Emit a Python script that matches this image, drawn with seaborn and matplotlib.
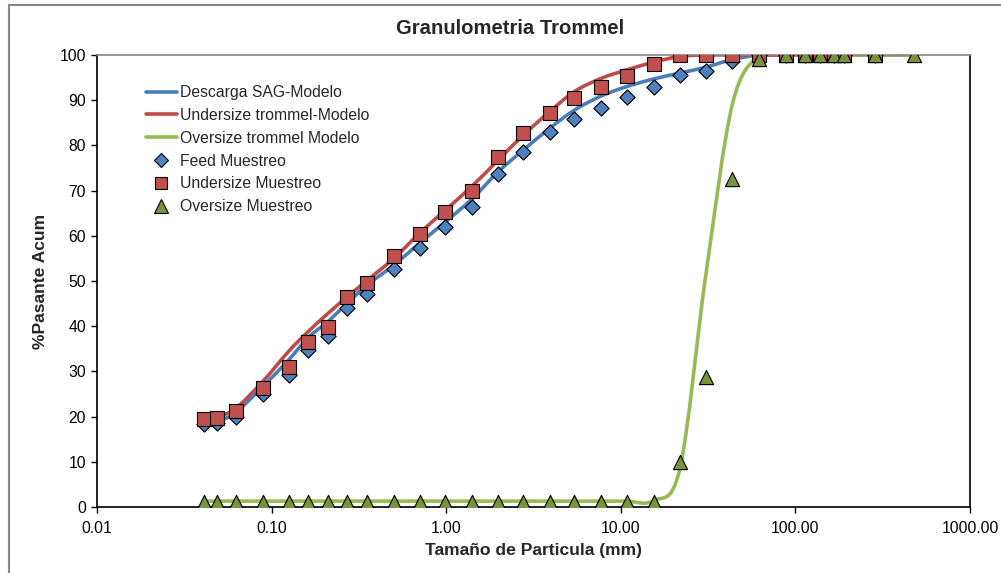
import numpy as np
import pandas as pd
import matplotlib
matplotlib.use("Agg")
import matplotlib.pyplot as plt
import seaborn as sns
from matplotlib.path import Path
from matplotlib.patches import PathPatch, Rectangle
from matplotlib.lines import Line2D

# Sieve sizes (mm)
sizes_mm = [0.0409, 0.0488, 0.0622, 0.0887, 0.125, 0.162, 0.210, 0.271, 0.352,
            0.501, 0.705, 0.99, 1.40, 1.99, 2.77, 3.92, 5.42, 7.68, 10.8, 15.4,
            21.8, 30.6, 43.5, 61.9, 88.0, 113.0, 139.0, 166.0, 191.0, 286.0, 478.0]

# Sampled cumulative passing (%)
feed_pct = [18.3, 18.5, 20.0, 25.0, 29.2, 34.7, 37.9, 44.1, 47.1, 52.7, 57.4,
            61.9, 66.4, 73.6, 78.6, 82.9, 85.9, 88.2, 90.6, 93.0, 95.5, 96.5,
            98.6, 100, 100, 100, 100, 100, 100, 100]
under_pct = [19.4, 19.6, 21.2, 26.3, 30.9, 36.6, 39.9, 46.4, 49.6, 55.6, 60.4,
             65.2, 70.0, 77.4, 82.8, 87.2, 90.4, 92.9, 95.4, 97.9, 100, 100,
             100, 100, 100, 100, 100, 100, 100, 100]
over_pct = [1.0, 1.0, 1.0, 1.0, 1.0, 1.0, 1.0, 1.0, 1.0, 1.0, 1.0, 1.0, 1.0,
            1.0, 1.0, 1.0, 1.0, 1.0, 1.0, 1.1, 9.9, 28.8, 72.5, 99.2, 100, 100,
            100, 100, 100, 100, 100]

# Model cumulative passing (%)
feed_model = [18.3, 18.9, 20.9, 26.6, 32.5, 37.5, 41.0, 45.1, 49.1, 53.5, 58.4,
              63.1, 68.1, 74.2, 79.0, 83.8, 87.8, 90.9, 93.0, 94.7, 96.0, 97.3,
              99.0, 100, 100, 100, 100, 100, 100, 100, 100]
under_model = [19.3, 19.9, 21.8, 27.7, 34.4, 38.8, 42.8, 46.5, 50.1, 55.0, 60.6,
               65.7, 70.9, 76.8, 82.3, 87.5, 91.9, 94.8, 96.7, 98.4, 99.7, 100,
               100, 100, 100, 100, 100, 100, 100, 100, 100]
over_model = [1.3, 1.3, 1.3, 1.3, 1.3, 1.3, 1.3, 1.3, 1.3, 1.3, 1.3, 1.3, 1.3,
              1.3, 1.3, 1.3, 1.3, 1.3, 1.3, 1.4, 8.5, 51.0, 89.0, 99.8, 100, 100,
              100, 100, 100, 100, 100]

x_ticks = [0.01, 0.1, 1, 10, 100, 1000]
x_tick_labels = ["0.01", "0.10", "1.00", "10.00", "100.00", "1000.00"]
y_ticks = list(range(0, 101, 10))

series_names = ["Descarga SAG-Modelo", "Undersize trommel-Modelo",
                "Oversize trommel Modelo", "Feed Muestreo",
                "Undersize Muestreo", "Oversize Muestreo"]

sns.set_theme(style="white")
plt.rcParams["font.family"] = ["Liberation Sans", "DejaVu Sans"]

W, H = 1001, 573
fig = plt.figure(figsize=(W / 100, H / 100), dpi=100)
ax = fig.add_axes([97 / W, 1 - 507 / H, (970 - 97) / W, (507 - 55) / H])

line_cols = ["#4A7EBB", "#BE4B48", "#98B954"]
mark_face = ["#4F81BD", "#C0504D", "#77933C"]


def smooth_path(xs, ys):
    """Cubic Bezier curve through the points (log-x space), Catmull-Rom style."""
    pts = np.column_stack([np.log10(xs), np.asarray(ys, float)])
    n = len(pts)
    verts = [pts[0]]
    codes = [Path.MOVETO]
    for i in range(n - 1):
        p0 = pts[i - 1] if i > 0 else pts[i]
        p1, p2 = pts[i], pts[i + 1]
        p3 = pts[i + 2] if i + 2 < n else pts[i + 1]
        verts += [p1 + (p2 - p0) / 6, p2 - (p3 - p1) / 6, p2]
        codes += [Path.CURVE4] * 3
    verts = np.array(verts)
    verts[:, 0] = 10 ** verts[:, 0]
    return Path(verts, codes)


for yv, col in zip([feed_model, under_model, over_model], line_cols):
    ax.add_patch(PathPatch(smooth_path(sizes_mm, yv), fill=False, edgecolor=col,
                           lw=2.6, capstyle="round", joinstyle="round", zorder=2))

feed_df = pd.DataFrame({"size": sizes_mm[:len(feed_pct)], "pct": feed_pct})
under_df = pd.DataFrame({"size": sizes_mm[:len(under_pct)], "pct": under_pct})
over_df = pd.DataFrame({"size": sizes_mm, "pct": over_pct})

sns.scatterplot(data=feed_df, x="size", y="pct", marker="D", s=60,
                color=mark_face[0], edgecolor="black", linewidth=0.8, ax=ax, zorder=3)
sns.scatterplot(data=under_df, x="size", y="pct", marker="s", s=92,
                color=mark_face[1], edgecolor="black", linewidth=0.8, ax=ax, zorder=4)
sns.scatterplot(data=over_df, x="size", y="pct", marker="^", s=105,
                color=mark_face[2], edgecolor="black", linewidth=0.8, ax=ax, zorder=5)

ax.set_xscale("log")
ax.set_xlim(0.01, 1000)
ax.set_ylim(0, 100)
ax.set_xticks(x_ticks)
ax.set_xticklabels(x_tick_labels)
ax.set_yticks(y_ticks)
ax.minorticks_off()
ax.tick_params(axis="both", direction="out", length=4, width=1, color="black",
               labelsize=11.3, pad=4, labelcolor="black")
ax.tick_params(axis="x", bottom=True, pad=6)
ax.tick_params(axis="y", left=True)

for side in ["left", "bottom", "right"]:
    ax.spines[side].set_color("black")
    ax.spines[side].set_linewidth(1.2)
ax.spines["top"].set_color("#868686")
ax.spines["top"].set_linewidth(1.2)
ax.set_facecolor("white")

ax.set_xlabel("Tamaño de Particula (mm)", fontsize=12.6, fontweight="bold", labelpad=5)
ax.set_ylabel("%Pasante Acum", fontsize=12.6, fontweight="bold", labelpad=8)
fig.text(510 / W, 1 - 29 / H, "Granulometria Trommel", fontsize=14.6,
         fontweight="bold", ha="center", va="center")

handles = [Line2D([], [], color=c, lw=2.6) for c in line_cols]
handles += [Line2D([], [], ls="none", marker=m, markersize=ms, markerfacecolor=f,
                   markeredgecolor="black", markeredgewidth=0.8)
            for m, ms, f in zip(["D", "s", "^"], [6.8, 9.2, 9.8], mark_face)]
ax.legend(handles, series_names, loc="upper left",
          bbox_to_anchor=(146 / W, 1 - 85 / H), bbox_transform=fig.transFigure,
          frameon=False, fontsize=11.3, handlelength=1.95, handletextpad=0.2,
          labelspacing=0.5, borderpad=0, borderaxespad=0, numpoints=1)

# Chart area frame
fig.patches.append(Rectangle((9 / W, -0.05), 1.1, 1 - 5 / H + 0.05,
                             transform=fig.transFigure, fill=False,
                             edgecolor="#878787", lw=1.5, zorder=0))

fig.savefig("out.png", dpi=100, facecolor="white")
